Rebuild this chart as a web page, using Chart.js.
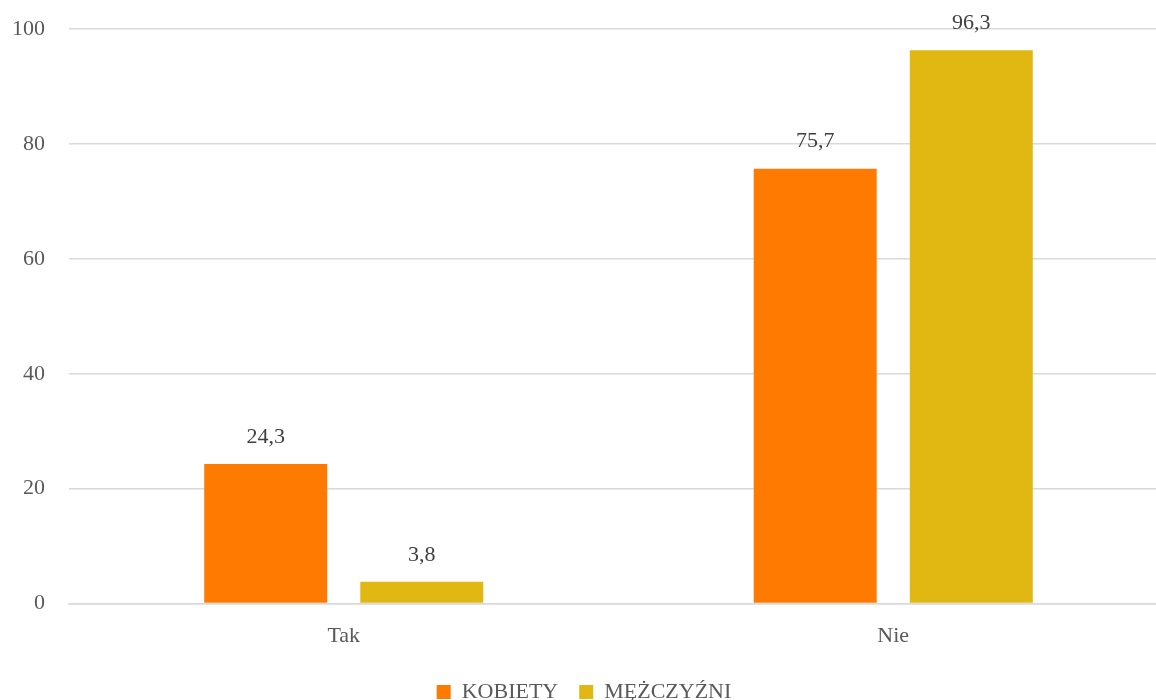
<!DOCTYPE html>
<html>
<head>
    <meta charset="utf-8">
    <title>Tak / Nie</title>
    <script src="https://cdn.jsdelivr.net/npm/chart.js"></script>
    <style>
        html, body {
            margin: 0;
            padding: 0;
            background: #ffffff;
            overflow: hidden;
        }
        .chart-container {
            position: relative;
            width: 1168px;
            height: 700px;
        }
    </style>
</head>
<body>
    <div class="chart-container">
        <canvas id="chart"></canvas>
    </div>

    <script>
        const categories = ['Tak', 'Nie'];
        const kobiety = [24.3, 75.7];
        const mezczyzni = [3.8, 96.3];
        const seriesNames = ['KOBIETY', 'MĘŻCZYŹNI'];

        const fontFamily = '"Liberation Serif", "DejaVu Serif", serif';
        const fontSize = 22;

        // draws the value above each bar, comma as decimal sign
        const valueLabels = {
            id: 'valueLabels',
            afterDatasetsDraw(chart) {
                const ctx = chart.ctx;
                ctx.save();
                ctx.font = fontSize + 'px ' + fontFamily;
                ctx.fillStyle = '#404040';
                ctx.textAlign = 'center';
                ctx.textBaseline = 'middle';
                chart.data.datasets.forEach((ds, i) => {
                    chart.getDatasetMeta(i).data.forEach((bar, j) => {
                        const txt = ds.data[j].toFixed(1).replace('.', ',');
                        ctx.fillText(txt, bar.x, bar.y - 27);
                    });
                });
                ctx.restore();
            }
        };

        const ctx = document.getElementById('chart').getContext('2d');
        new Chart(ctx, {
            type: 'bar',
            data: {
                labels: categories,
                datasets: [{
                    label: seriesNames[0],
                    data: kobiety,
                    backgroundColor: '#FF7A00',
                    categoryPercentage: 0.568,
                    barPercentage: 0.788
                }, {
                    label: seriesNames[1],
                    data: mezczyzni,
                    backgroundColor: '#E0B811',
                    categoryPercentage: 0.568,
                    barPercentage: 0.788
                }]
            },
            options: {
                responsive: true,
                maintainAspectRatio: false,
                animation: false,
                layout: {
                    padding: { top: 29, right: 0, bottom: -13, left: 0 }
                },
                scales: {
                    x: {
                        grid: { display: false },
                        border: { color: '#d9d9d9', width: 1.5 },
                        ticks: {
                            color: '#595959',
                            font: { family: fontFamily, size: fontSize },
                            padding: 11
                        }
                    },
                    y: {
                        min: 0,
                        max: 100,
                        afterFit(scale) {
                            scale.width = 69;
                            scale.paddingTop = 0;
                            scale.paddingBottom = 0;
                        },
                        border: { display: false },
                        grid: { color: '#d9d9d9', lineWidth: 1.5, drawTicks: false },
                        ticks: {
                            stepSize: 20,
                            color: '#595959',
                            font: { family: fontFamily, size: fontSize },
                            padding: 24
                        }
                    }
                },
                plugins: {
                    legend: {
                        position: 'bottom',
                        labels: {
                            color: '#595959',
                            font: { family: fontFamily, size: fontSize },
                            boxWidth: 14,
                            boxHeight: 14,
                            padding: 21
                        }
                    },
                    tooltip: { enabled: false }
                }
            },
            plugins: [valueLabels]
        });
    </script>
</body>
</html>
